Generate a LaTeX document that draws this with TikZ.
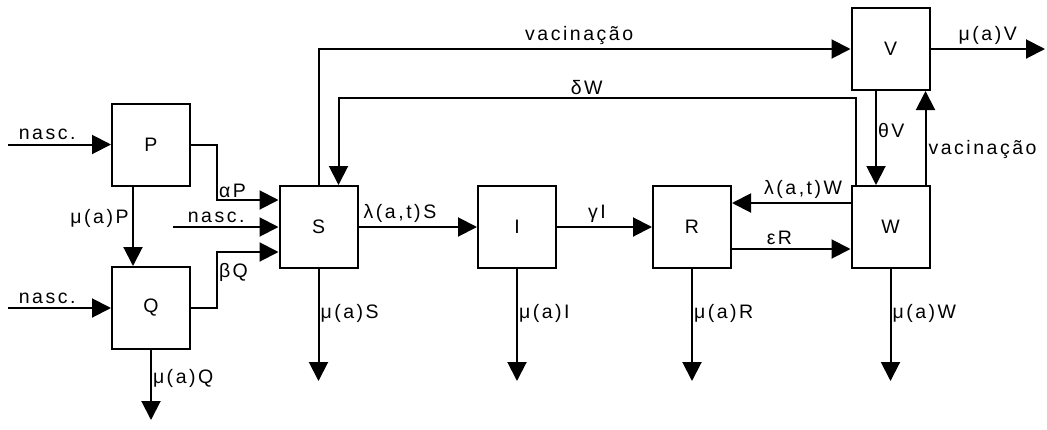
\documentclass[tikz,border=0pt]{standalone}
\usepackage{fontspec}
\setmainfont{Liberation Sans}[LetterSpace=13]
\usetikzlibrary{arrows.meta}

\begin{document}
\begin{tikzpicture}[x=1pt, y=-1pt, line width=2pt,
    >={Triangle[length=19pt, width=19pt]},
    box/.style={draw, minimum width=78pt, minimum height=82pt, inner sep=0pt},
    every node/.append style={font=\fontsize{19.5}{22}\selectfont}]
    \useasboundingbox (0,0) rectangle (1047,429);

    % Define node positions
    \node[box] (P) at (151, 144.5) {P};
    \node[box] (Q) at (151, 308) {Q};
    \node[box] (S) at (318.5, 227) {S};
    \node[box] (I) at (517, 227) {I};
    \node[box] (R) at (692, 227) {R};
    \node[box] (W) at (890.5, 227) {W};
    \node[box] (V) at (890.5, 49) {V};

    % Free ends
    \coordinate (nP) at (8, 144.5);
    \coordinate (nQ) at (8, 308);
    \coordinate (nS) at (173, 227);
    \coordinate (dQ) at (151, 420);
    \coordinate (dS) at (318.5, 381);
    \coordinate (dI) at (517, 381);
    \coordinate (dR) at (692, 381);
    \coordinate (dW) at (890.5, 381);
    \coordinate (dV) at (1045, 49);

    % Births
    \draw[->] (nP) -- (P) node[pos=0.38, above] {nasc.};
    \draw[->] (nQ) -- (Q) node[pos=0.38, above] {nasc.};
    \draw[->] (nS) -- (S) node[pos=0.41, above] {nasc.};

    % Draw arrows
    \draw[->] ([xshift=-18pt]P.south) -- ([xshift=-18pt]Q.north)
        node[pos=0.4, left] {μ(a)P};
    \draw[->] (P.east) -- ++(26,0) |- node[pos=0.5, above right, inner sep=1pt] {αP}
        ([yshift=27pt]S.west);
    \draw[->] (Q.east) -- ++(26,0) |- node[pos=0.5, below right, inner sep=1pt, yshift=-9pt] {βQ}
        ([yshift=-25pt]S.west);
    \draw[->] (S) -- (I) node[pos=0.35, above] {λ(a,t)S};
    \draw[->] (I) -- (R) node[pos=0.42, above] {γI};
    \draw[->] ([yshift=24pt]W.west) -- ([yshift=24pt]R.east) node[pos=0.4, above] {λ(a,t)W};
    \draw[->] ([yshift=-22pt]R.east) -- ([yshift=-22pt]W.west) node[pos=0.4, above] {εR};

    % Vaccination and loss of immunity
    \draw[->] (S.north) |- node[pos=0.745, above] {vacinação} (V.west);
    \draw[->] ([xshift=5pt]W.north west) -- ++(0,-87)
        -| node[pos=0.26, above, inner sep=2pt] {δW} ([xshift=20pt]S.north);
    \draw[->] ([xshift=-14.5pt]V.south) -- ([xshift=-14.5pt]W.north)
        node[pos=0.42, right, inner sep=1pt] {θV};
    \draw[->] ([xshift=35pt]W.north) -- ([xshift=35pt]V.south)
        node[pos=0.38, right, inner sep=2pt] {vacinação};

    % Deaths
    \draw[->] (Q) -- (dQ) node[pos=0.4, right, inner sep=1pt] {μ(a)Q};
    \draw[->] (S) -- (dS) node[pos=0.4, right, inner sep=1pt] {μ(a)S};
    \draw[->] (I) -- (dI) node[pos=0.4, right, inner sep=1pt] {μ(a)I};
    \draw[->] (R) -- (dR) node[pos=0.4, right, inner sep=1pt] {μ(a)R};
    \draw[->] (W) -- (dW) node[pos=0.4, right, inner sep=1pt] {μ(a)W};
    \draw[->] (V) -- (dV) node[midway, above] {μ(a)V};
\end{tikzpicture}
\end{document}
